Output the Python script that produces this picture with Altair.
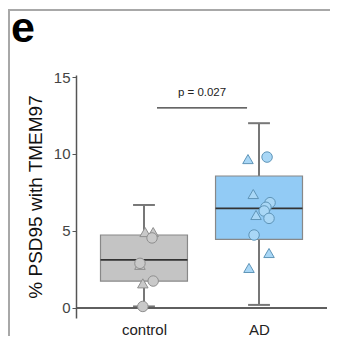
import altair as alt
import pandas as pd

# ---- data ----
groups = ["control", "AD"]
group_pos = [1, 2]
box_min = [0.10, 0.20]
box_q1 = [1.75, 4.46]
box_median = [3.12, 6.47]
box_q3 = [4.74, 8.57]
box_max = [6.69, 12.0]
box_fill = ["#c4c4c4", "#92cbf5"]

ctrl_values = [4.93, 4.93, 4.55, 2.80, 2.90, 1.60, 1.75, 0.10]
ctrl_jitter = [0.01, 0.08, 0.07, -0.035, -0.035, -0.01, 0.08, -0.01]
ctrl_shape = ["triangle-up", "triangle-up", "circle", "triangle-up", "circle", "triangle-up", "circle", "circle"]

ad_values = [9.67, 9.80, 7.40, 6.84, 6.54, 6.30, 6.04, 5.82, 4.74, 3.57, 2.60]
ad_jitter = [-0.096, 0.07, -0.05, 0.096, 0.06, 0.045, -0.026, 0.087, -0.043, 0.087, -0.087]
ad_shape = ["triangle-up", "circle", "triangle-up", "circle", "circle", "circle", "triangle-up", "circle", "circle", "triangle-up", "triangle-up"]

p_text = "p = 0.027"
bracket_y = 13.0
bracket_x = [1.113, 1.896]
p_y = 13.75

W, H = 251, 243
XDOM = [0.409, 2.591]
YDOM = [-0.65, 15.13]

boxes = pd.DataFrame({
    "g": groups, "pos": group_pos, "lo": box_min, "q1": box_q1, "med": box_median,
    "q3": box_q3, "hi": box_max, "fill": box_fill,
})
boxes["bx1"] = boxes["pos"] - 0.378
boxes["bx2"] = boxes["pos"] + 0.378
boxes["cx1"] = boxes["pos"] - 0.095
boxes["cx2"] = boxes["pos"] + 0.095

pts = pd.DataFrame({
    "g": ["control"] * len(ctrl_values) + ["AD"] * len(ad_values),
    "v": ctrl_values + ad_values,
    "x": [1 + j for j in ctrl_jitter] + [2 + j for j in ad_jitter],
    "shape": ctrl_shape + ad_shape,
})

xs = alt.Scale(domain=XDOM, nice=False, zero=False)
ys = alt.Scale(domain=YDOM, nice=False, zero=False)

base_x = alt.X("pos:Q", scale=xs, axis=alt.Axis(
    values=group_pos, labelExpr="datum.value == 1 ? 'control' : 'AD'",
    domain=False, ticks=False, grid=False, labelFontSize=15, labelColor="#222",
    labelPadding=4, labelFont="Liberation Sans", title=None))
base_y = alt.Y("lo:Q", scale=ys, axis=alt.Axis(
    values=[0, 5, 10, 15], grid=False, domainColor="#555", domainWidth=1.5,
    tickColor="#555", tickSize=4, labelFontSize=15, labelColor="#444",
    labelFont="Liberation Sans", labelPadding=2,
    title="% PSD95 with TMEM97", titleFontSize=19, titleFont="Liberation Sans",
    titleFontWeight="normal", titleColor="#111", titlePadding=8))

whisker = alt.Chart(boxes).mark_rule(color="#777", strokeWidth=2).encode(
    x=base_x, y=base_y, y2="hi:Q")
caps_lo = alt.Chart(boxes).mark_rule(color="#777", strokeWidth=2).encode(
    x=alt.X("cx1:Q", scale=xs), x2="cx2:Q", y=alt.Y("lo:Q", scale=ys))
caps_hi = alt.Chart(boxes).mark_rule(color="#777", strokeWidth=2).encode(
    x=alt.X("cx1:Q", scale=xs), x2="cx2:Q", y=alt.Y("hi:Q", scale=ys))
box = alt.Chart(boxes).mark_rect(stroke="#888", strokeWidth=1.2).encode(
    x=alt.X("bx1:Q", scale=xs), x2="bx2:Q",
    y=alt.Y("q1:Q", scale=ys), y2="q3:Q",
    fill=alt.Fill("fill:N", scale=None))
med = alt.Chart(boxes).mark_rule(color="#333", strokeWidth=1.8).encode(
    x=alt.X("bx1:Q", scale=xs), x2="bx2:Q", y=alt.Y("med:Q", scale=ys))

zero_line = alt.Chart(boxes).mark_rule(color="#555", strokeWidth=1.5).encode(
    x=alt.value(0), x2=alt.value(W), y=alt.Y("datum0:Q", scale=ys)
).transform_calculate(datum0="0")

points = alt.Chart(pts).mark_point(size=110, filled=True, strokeWidth=1, opacity=1).encode(
    x=alt.X("x:Q", scale=xs),
    y=alt.Y("v:Q", scale=ys),
    shape=alt.Shape("shape:N", scale=None),
    fill=alt.Fill("g:N", scale=alt.Scale(domain=groups, range=["#c9c9c9", "#a9d7f6"]), legend=None),
    stroke=alt.Stroke("g:N", scale=alt.Scale(domain=groups, range=["#8f8f8f", "#5f95b8"]), legend=None),
)

br = pd.DataFrame({"x1": [bracket_x[0]], "x2": [bracket_x[1]], "y": [bracket_y],
                   "tx": [(bracket_x[0] + bracket_x[1]) / 2], "ty": [p_y], "t": [p_text]})
bracket = alt.Chart(br).mark_rule(color="#333", strokeWidth=1.3).encode(
    x=alt.X("x1:Q", scale=xs), x2="x2:Q", y=alt.Y("y:Q", scale=ys))
ptext = alt.Chart(br).mark_text(fontSize=11.5, color="#222", baseline="alphabetic",
                                font="Liberation Sans").encode(
    x=alt.X("tx:Q", scale=xs), y=alt.Y("ty:Q", scale=ys), text="t:N")

# panel letter and frame (decoration)
deco = pd.DataFrame({"t": ["e"]})
letter = alt.Chart(deco).mark_text(fontSize=43, fontWeight="bold", color="#000", align="left",
                                   baseline="alphabetic", font="Liberation Sans").encode(
    x=alt.value(-65), y=alt.value(-33), text="t:N")
frame = alt.Chart(deco).mark_rect(fill="transparent", stroke="#a8a8a8", strokeWidth=2,
                                  clip=False).encode(
    x=alt.value(-67), x2=alt.value(320), y=alt.value(-65), y2=alt.value(320))

chart = alt.layer(
    frame, letter,
    whisker, caps_lo, caps_hi, box, med, zero_line, points, bracket, ptext
).properties(
    width=W, height=H,
    autosize=alt.AutoSizeParams(type="none"),
    padding={"left": 68, "top": 67, "right": 3, "bottom": 18},
).configure_view(stroke=None)

chart.save("out.html", embed_options={"renderer": "svg", "actions": False})
